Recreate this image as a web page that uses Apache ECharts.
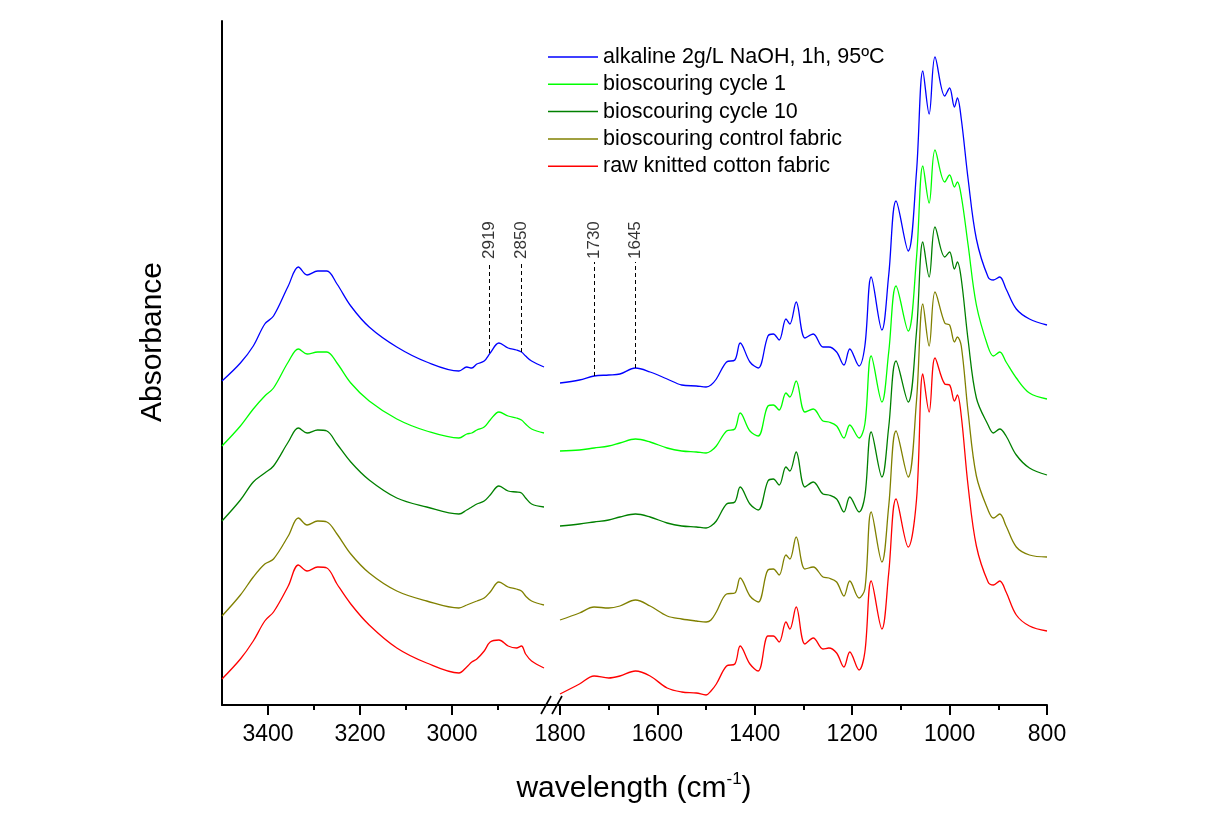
<!DOCTYPE html>
<html>
<head>
<meta charset="utf-8">
<title>FTIR spectra</title>
<script src="https://cdn.jsdelivr.net/npm/echarts@6/dist/echarts.min.js"></script>
<style>
  html, body { margin: 0; padding: 0; background: #fff; }
  #chart { width: 1213px; height: 836px; }
</style>
</head>
<body>
<div id="chart"></div>
<script>
  const FONT = '"Liberation Sans", Arial, Helvetica, sans-serif'

  const seriesNames = [
    'alkaline 2g/L NaOH, 1h, 95ºC',
    'bioscouring cycle 1',
    'bioscouring cycle 10',
    'bioscouring control fabric',
    'raw knitted cotton fabric'
  ]
  const seriesColors = ['#0000ff', '#00ff00', '#008000', '#808000', '#ff0000']

  // left part of the broken axis (cm-1)
  const waveLeft = [3500, 3460, 3432, 3407, 3388, 3356, 3334, 3315, 3292, 3272, 3250, 3220, 3180, 3120,
    3055, 2985, 2968, 2957, 2946, 2930, 2917, 2898, 2878, 2860, 2849, 2840, 2827, 2800]
  // absorbance, arbitrary stacked units
  const alkalineLeft = [324, 342, 359, 381, 389, 419, 438, 430, 434, 434, 421, 399, 378, 358,
    343, 334, 338, 337, 341, 344, 352, 362, 357, 355, 353, 349, 344, 338]
  const cycle1Left = [259, 279, 296, 309, 317, 343, 356, 351, 353, 353, 342, 322, 304, 286,
    274, 267, 271, 272, 275, 278, 285, 293, 289, 287, 285, 281, 276, 272]
  const cycle10Left = [184, 205, 223, 232, 239, 263, 277, 272, 275, 274, 261, 243, 225, 207,
    198, 191, 195, 198, 201, 204, 210, 219, 214, 213, 212, 207, 201, 198]
  const controlLeft = [89, 110, 128, 141, 146, 169, 187, 180, 184, 183, 171, 151, 132, 114,
    104, 97, 100, 102, 104, 107, 113, 123, 118, 116, 114, 109, 104, 100]
  const rawLeft = [26, 46, 64, 84, 93, 119, 140, 134, 138, 137, 121, 101, 80, 57,
    42, 32, 38, 43, 46, 54, 63, 65, 59, 57, 59, 51, 44, 37]

  // right part of the broken axis (cm-1)
  const waveRight = [1800, 1760, 1730, 1700, 1677, 1645, 1615, 1580, 1550, 1520, 1500,
    1490, 1479, 1458, 1441, 1430, 1410, 1393, 1373, 1362, 1350, 1336, 1328, 1315, 1297, 1280, 1260, 1248, 1232, 1217, 1205, 1186, 1174,
    1161, 1139, 1125, 1110, 1085, 1068, 1055, 1042, 1030, 1010, 1000, 990, 984, 976, 962, 945, 921, 910, 897, 884, 863, 836, 800]
  const alkalineRight = [322, 325, 329, 330, 331, 337, 333, 326, 320, 319, 318,
    320, 326, 343, 345, 362, 343, 337, 369, 371, 365, 386, 381, 403, 367, 371, 358, 358, 353, 340, 356, 339, 359,
    428, 375, 430, 504, 454, 533, 634, 591, 648, 609, 617, 598, 607, 586, 526, 466, 428, 425, 428, 416, 396, 386, 380]
  const cycle1Right = [254, 255, 257, 259, 262, 266, 263, 257, 254, 253, 252,
    254, 259, 274, 276, 292, 274, 269, 299, 300, 295, 312, 308, 324, 293, 296, 284, 283, 279, 267, 280, 267, 281,
    349, 303, 353, 419, 374, 447, 539, 502, 555, 523, 530, 518, 523, 509, 460, 400, 358, 349, 353, 343, 327, 312, 306]
  const cycle10Right = [179, 181, 183, 185, 188, 191, 188, 182, 179, 178, 177,
    179, 184, 201, 203, 218, 201, 195, 224, 226, 220, 238, 234, 253, 218, 223, 211, 210, 206, 193, 208, 193, 209,
    273, 228, 278, 344, 303, 373, 463, 428, 478, 448, 453, 436, 443, 426, 365, 307, 280, 272, 276, 269, 250, 237, 230]
  const controlRight = [85, 92, 98, 97, 99, 105, 99, 89, 86, 84, 83,
    85, 93, 111, 112, 127, 109, 103, 135, 136, 130, 150, 146, 168, 136, 138, 128, 127, 123, 109, 124, 107, 116,
    193, 143, 199, 274, 228, 304, 401, 359, 413, 382, 380, 363, 368, 359, 293, 229, 195, 187, 191, 179, 158, 150, 148]
  const rawRight = [11, 21, 29, 27, 29, 34, 29, 17, 13, 12, 10,
    14, 21, 39, 41, 59, 41, 34, 69, 69, 63, 83, 76, 98, 61, 67, 56, 57, 52, 38, 53, 35, 53,
    124, 76, 132, 206, 158, 205, 331, 293, 347, 321, 320, 304, 310, 289, 219, 159, 123, 120, 124, 113, 90, 79, 74]

  // tick labels
  const ticksLeft = [3400, 3200, 3000]
  const minorLeft = [3300, 3100, 2900]
  const ticksRight = [1800, 1600, 1400, 1200, 1000, 800]
  const minorRight = [1700, 1500, 1300, 1100, 900]

  // marked bands, dashed lines go from the blue curve up to annotTop
  const annotLeft = [2919, 2850]
  const annotLeftBase = [352, 353]
  const annotRight = [1730, 1645]
  const annotRightBase = [329, 337]
  const annotTop = 443

  const leftSets = [alkalineLeft, cycle1Left, cycle10Left, controlLeft, rawLeft]
  const rightSets = [alkalineRight, cycle1Right, cycle10Right, controlRight, rawRight]

  function zip(xs, ys) {
    return xs.map((x, i) => [x, ys[i]])
  }

  let chartInstance = echarts.init(document.getElementById('chart'), null, { renderer: 'canvas' })

  const seriesArr = []
  seriesNames.forEach((name, i) => {
    seriesArr.push({
      name: name, type: 'line', xAxisIndex: 0, yAxisIndex: 0,
      data: zip(waveLeft, leftSets[i]),
      smooth: 0.35, symbol: 'none', color: seriesColors[i],
      lineStyle: { width: 1.3, color: seriesColors[i] }
    })
    seriesArr.push({
      name: name, type: 'line', xAxisIndex: 2, yAxisIndex: 1,
      data: zip(waveRight, rightSets[i]),
      smooth: 0.35, symbol: 'none', color: seriesColors[i],
      lineStyle: { width: 1.3, color: seriesColors[i] }
    })
  })

  //带虚线的标注
  function annotSeries(xIndex, yIndex, waves, bases) {
    return {
      type: 'scatter', xAxisIndex: xIndex, yAxisIndex: yIndex, silent: true,
      symbolSize: 1, itemStyle: { color: 'rgba(0,0,0,0)' },
      data: waves.map(w => [w, annotTop + 3]),
      label: {
        show: true, position: 'inside', rotate: 90, align: 'left', verticalAlign: 'middle',
        formatter: p => String(p.value[0]), fontSize: 17, color: '#000', fontFamily: FONT
      },
      markLine: {
        silent: true, symbol: 'none', animation: false,
        label: { show: false },
        lineStyle: { type: [4, 3], color: '#000', width: 1 },
        data: waves.map((w, i) => [{ coord: [w, bases[i]] }, { coord: [w, annotTop] }])
      }
    }
  }
  seriesArr.push(annotSeries(0, 0, annotLeft, annotLeftBase))
  seriesArr.push(annotSeries(3, 1, annotRight, annotRightBase))

  const axisLabelStyle = { fontSize: 23, color: '#000', fontFamily: FONT, margin: 18, formatter: v => String(v) }
  const tickStyle = { color: '#000', width: 2 }

  // 每个区段两条x轴：一条画主刻度和标签，一条只画次刻度
  function makeAxes(gridIndex, min, max, major, minor) {
    return [
      {
        gridIndex: gridIndex, type: 'value', position: 'bottom', min: min, max: max, inverse: true,
        axisLine: { show: true, onZero: false, lineStyle: { color: '#000', width: 2 } },
        axisTick: { show: true, inside: false, length: 10, customValues: major, lineStyle: tickStyle },
        axisLabel: Object.assign({ show: true, customValues: major }, axisLabelStyle),
        splitLine: { show: false }
      },
      {
        gridIndex: gridIndex, type: 'value', position: 'bottom', min: min, max: max, inverse: true,
        axisLine: { show: false, onZero: false },
        axisTick: { show: true, inside: false, length: 5, customValues: minor, lineStyle: tickStyle },
        axisLabel: { show: false },
        splitLine: { show: false }
      }
    ]
  }

  const option = {
    animation: false,
    backgroundColor: '#fff',
    grid: [
      { left: 222, top: 21, width: 322, height: 684 },
      { left: 560, top: 21, width: 487, height: 684 }
    ],
    xAxis: makeAxes(0, 2800, 3500, ticksLeft, minorLeft).concat(makeAxes(1, 800, 1800, ticksRight, minorRight)),
    yAxis: [
      {
        gridIndex: 0, type: 'value', min: 0, max: 684,
        axisLine: { show: true, onZero: false, lineStyle: { color: '#000', width: 2 } },
        axisTick: { show: false }, axisLabel: { show: false }, splitLine: { show: false }
      },
      { gridIndex: 1, type: 'value', min: 0, max: 684, show: false }
    ],
    legend: {
      data: seriesNames, orient: 'vertical', left: 548, top: 46, padding: 0,
      icon: 'rect', itemWidth: 50, itemHeight: 1.5, itemGap: 5.3,
      textStyle: { fontSize: 21.5, color: '#000', fontFamily: FONT, lineHeight: 21 }
    },
    graphic: [
      // 断轴符号
      { type: 'line', silent: true, shape: { x1: 543, y1: 705, x2: 561, y2: 705 }, style: { stroke: '#000', lineWidth: 2 } },
      { type: 'line', silent: true, shape: { x1: 541, y1: 714, x2: 551, y2: 696 }, style: { stroke: '#000', lineWidth: 1.6 } },
      { type: 'line', silent: true, shape: { x1: 552, y1: 714, x2: 562, y2: 696 }, style: { stroke: '#000', lineWidth: 1.6 } },
      {
        type: 'text', silent: true, x: 153, y: 342, rotation: Math.PI / 2,
        style: { text: 'Absorbance', fontSize: 30, fontFamily: FONT, fill: '#000', align: 'center', verticalAlign: 'middle' }
      },
      {
        type: 'text', silent: true, x: 634, y: 789,
        style: {
          text: '{a|wavelength (cm}{s|-1}{a|)}', align: 'center', verticalAlign: 'middle',
          rich: {
            a: { fontSize: 30, fontFamily: FONT, fill: '#000', lineHeight: 36 },
            s: { fontSize: 17, fontFamily: FONT, fill: '#000', lineHeight: 17, verticalAlign: 'top' }
          }
        }
      }
    ],
    series: seriesArr
  }
  chartInstance.setOption(option)
</script>
</body>
</html>
